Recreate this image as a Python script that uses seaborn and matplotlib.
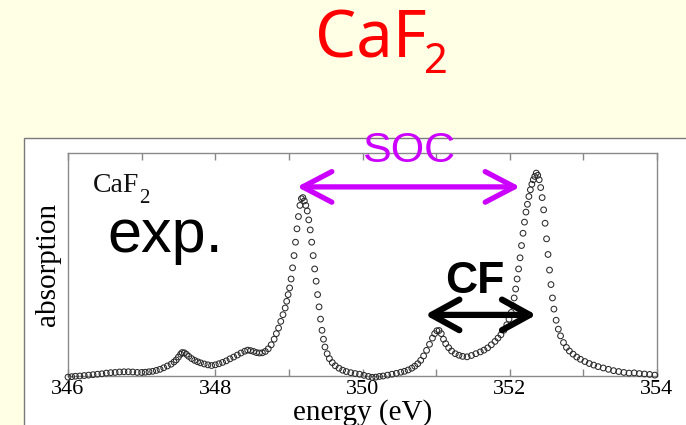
import matplotlib
matplotlib.use("Agg")
import matplotlib.pyplot as plt
from matplotlib.patches import Rectangle, FancyArrowPatch
from matplotlib.ticker import MultipleLocator
import seaborn as sns
import pandas as pd

# Ca L2,3-edge absorption of CaF2 (experiment)
energy = [
    346.00, 346.05, 346.10, 346.16, 346.22, 346.28, 346.34, 346.40, 346.46, 346.52,
    346.58, 346.64, 346.70, 346.76, 346.82, 346.88, 346.94, 347.00, 347.05, 347.10,
    347.15, 347.20, 347.25, 347.30, 347.35, 347.40, 347.44, 347.47, 347.50, 347.53,
    347.55, 347.58, 347.61, 347.64, 347.68, 347.72, 347.76, 347.80, 347.85, 347.90,
    347.95, 348.00, 348.05, 348.10, 348.15, 348.20, 348.25, 348.30, 348.35, 348.40,
    348.44, 348.48, 348.52, 348.56, 348.60, 348.64, 348.68, 348.72, 348.76, 348.80,
    348.83, 348.86, 348.89, 348.92, 348.95, 348.97, 348.99, 349.01, 349.03, 349.05,
    349.07, 349.09, 349.11, 349.13, 349.15, 349.17, 349.19, 349.21, 349.23, 349.25,
    349.27, 349.29, 349.31, 349.33, 349.35, 349.37, 349.39, 349.41, 349.43, 349.45,
    349.47, 349.49, 349.52, 349.55, 349.59, 349.63, 349.68, 349.73, 349.78, 349.84,
    349.90, 349.96, 350.02, 350.08, 350.13, 350.18, 350.23, 350.28, 350.34, 350.40,
    350.46, 350.52, 350.57, 350.62, 350.67, 350.71, 350.75, 350.79, 350.83, 350.87,
    350.91, 350.95, 350.98, 351.01, 351.04, 351.07, 351.10, 351.13, 351.17, 351.21,
    351.26, 351.31, 351.36, 351.42, 351.48, 351.54, 351.60, 351.65, 351.70, 351.75,
    351.80, 351.84, 351.88, 351.92, 351.96, 351.99, 352.02, 352.04, 352.06, 352.08,
    352.10, 352.12, 352.14, 352.16, 352.18, 352.20, 352.22, 352.24, 352.26, 352.28,
    352.30, 352.32, 352.34, 352.36, 352.38, 352.40, 352.42, 352.44, 352.46, 352.48,
    352.50, 352.52, 352.54, 352.56, 352.58, 352.60, 352.63, 352.66, 352.69, 352.73,
    352.77, 352.81, 352.86, 352.91, 352.96, 353.02, 353.08, 353.14, 353.20, 353.27,
    353.34, 353.41, 353.48, 353.55, 353.62, 353.69, 353.76, 353.83, 353.90, 353.97,
]
absorption = [
    -0.005, -0.003, -0.001, 0.000, 0.002, 0.004, 0.006, 0.008, 0.010, 0.013,
    0.015, 0.016, 0.018, 0.019, 0.019, 0.018, 0.016, 0.016, 0.017, 0.019,
    0.021, 0.025, 0.030, 0.037, 0.045, 0.053, 0.063, 0.072, 0.085, 0.098,
    0.105, 0.104, 0.097, 0.088, 0.078, 0.070, 0.064, 0.059, 0.054, 0.050,
    0.047, 0.050, 0.055, 0.061, 0.068, 0.077, 0.085, 0.094, 0.103, 0.111,
    0.116, 0.114, 0.110, 0.105, 0.103, 0.104, 0.110, 0.122, 0.140, 0.165,
    0.190, 0.215, 0.245, 0.275, 0.305, 0.335, 0.365, 0.395, 0.435, 0.485,
    0.540, 0.600, 0.660, 0.715, 0.765, 0.795, 0.800, 0.785, 0.765, 0.740,
    0.700, 0.655, 0.600, 0.540, 0.480, 0.425, 0.365, 0.310, 0.255, 0.205,
    0.165, 0.130, 0.100, 0.078, 0.060, 0.046, 0.035, 0.026, 0.020, 0.015,
    0.011, 0.008, 0.003, -0.002, -0.006, -0.005, -0.002, 0.000, 0.004, 0.008,
    0.012, 0.017, 0.021, 0.027, 0.035, 0.044, 0.055, 0.070, 0.090, 0.115,
    0.142, 0.170, 0.190, 0.203, 0.204, 0.190, 0.165, 0.145, 0.127, 0.112,
    0.100, 0.093, 0.088, 0.086, 0.092, 0.100, 0.108, 0.116, 0.126, 0.140,
    0.155, 0.170, 0.185, 0.205, 0.230, 0.255, 0.285, 0.315, 0.350, 0.390,
    0.435, 0.480, 0.530, 0.585, 0.640, 0.690, 0.735, 0.770, 0.805, 0.835,
    0.860, 0.880, 0.895, 0.910, 0.900, 0.880, 0.845, 0.800, 0.745, 0.685,
    0.615, 0.545, 0.475, 0.410, 0.350, 0.300, 0.250, 0.210, 0.180, 0.150,
    0.128, 0.112, 0.098, 0.085, 0.075, 0.065, 0.056, 0.049, 0.042, 0.036,
    0.030, 0.024, 0.020, 0.016, 0.013, 0.014, 0.011, 0.009, 0.007, 0.004,
]
x_ticks = [346, 348, 350, 352, 354]

# Splittings marked on the spectrum (eV positions of arrow ends, height)
soc_span = (349.11, 352.14)
soc_level = 0.848
cf_span = (350.85, 352.36)
cf_level = 0.274

df = pd.DataFrame({"energy": energy, "absorption": absorption})

sns.set_theme(style="white")
plt.rcParams["font.family"] = ["Liberation Serif", "DejaVu Serif"]

W, H = 686, 425
fig = plt.figure(figsize=(W / 100, H / 100), dpi=100, facecolor="#FFFFE6")

def fx(px):
    return px / W

def fy(py):
    return 1 - py / H

# white slide panel holding the plot
fig.add_artist(Rectangle((fx(24), -0.2), 1.2, fy(138) + 0.2,
                         transform=fig.transFigure, facecolor="white",
                         edgecolor="#7a7a7a", lw=1.0, zorder=0))

ax = fig.add_axes([fx(68), fy(376), fx(657) - fx(68), fy(153) - fy(376)])
ax.set_facecolor("white")

sns.scatterplot(data=df, x="energy", y="absorption", ax=ax, marker="o",
                s=17, facecolor="none", edgecolor="#2a2a2a", linewidth=0.75,
                clip_on=False, zorder=3, legend=False)

ax.set_xlim(346, 354)
ax.set_ylim(0, 1)
ax.set_xticks(x_ticks)
ax.set_xticklabels([str(t) for t in x_ticks])
ax.xaxis.set_minor_locator(MultipleLocator(1))
ax.set_yticks([])
ax.tick_params(axis="x", which="both", direction="in", top=True, bottom=True,
               length=5, width=1, color="#888888", labelsize=16, pad=3,
               labelcolor="black")
for s in ax.spines.values():
    s.set_visible(True)
    s.set_color("#8a8a8a")
    s.set_linewidth(1.0)

ax.set_xlabel("energy (eV)", fontsize=21, color="black")
ax.xaxis.set_label_coords(0.5, -0.102)
ax.set_ylabel("absorption", fontsize=21, color="black")
ax.yaxis.set_label_coords(-0.012, 0.5)

# spin-orbit splitting arrow
ax.add_patch(FancyArrowPatch((soc_span[0], soc_level), (soc_span[1], soc_level),
                             arrowstyle="<->,head_length=21,head_width=11",
                             mutation_scale=1, lw=3.8, color="#CC00FF",
                             capstyle="round", joinstyle="round",
                             shrinkA=0, shrinkB=0, clip_on=False, zorder=4))
ax.text((soc_span[0] + soc_span[1]) / 2, 0.96, "SOC", ha="center",
        va="baseline", fontsize=31, color="#CC00FF", family="Liberation Sans",
        clip_on=False, zorder=5)

# crystal-field splitting arrow
ax.add_patch(FancyArrowPatch((cf_span[0], cf_level), (cf_span[1], cf_level),
                             arrowstyle="<->,head_length=20,head_width=11",
                             mutation_scale=1, lw=4.5, color="black",
                             capstyle="round", joinstyle="round",
                             shrinkA=0, shrinkB=0, zorder=4))
ax.text(351.53, 0.372, "CF", ha="center", va="baseline", fontsize=32,
        fontweight="bold", color="black", family="Liberation Sans", zorder=5)

ax.text(346.53, 0.556, "exp.", ha="left", va="baseline", fontsize=44,
        color="black", family="Liberation Sans", zorder=5)

# sample label inside the frame
fig.text(fx(93), fy(192), "CaF", ha="left", va="baseline", fontsize=20,
         color="#111111", family="Liberation Serif")
fig.text(fx(139), fy(203), "2", ha="left", va="baseline", fontsize=15,
         color="#111111", family="Liberation Serif")

# slide title
fig.text(fx(315), fy(58), "CaF", ha="left", va="baseline", fontsize=47,
         color="#FF0000", family="Noto Sans")
fig.text(fx(424), fy(73), "2", ha="left", va="baseline", fontsize=30,
         color="#FF0000", family="Noto Sans")

fig.savefig("out.png", dpi=100, facecolor=fig.get_facecolor())
